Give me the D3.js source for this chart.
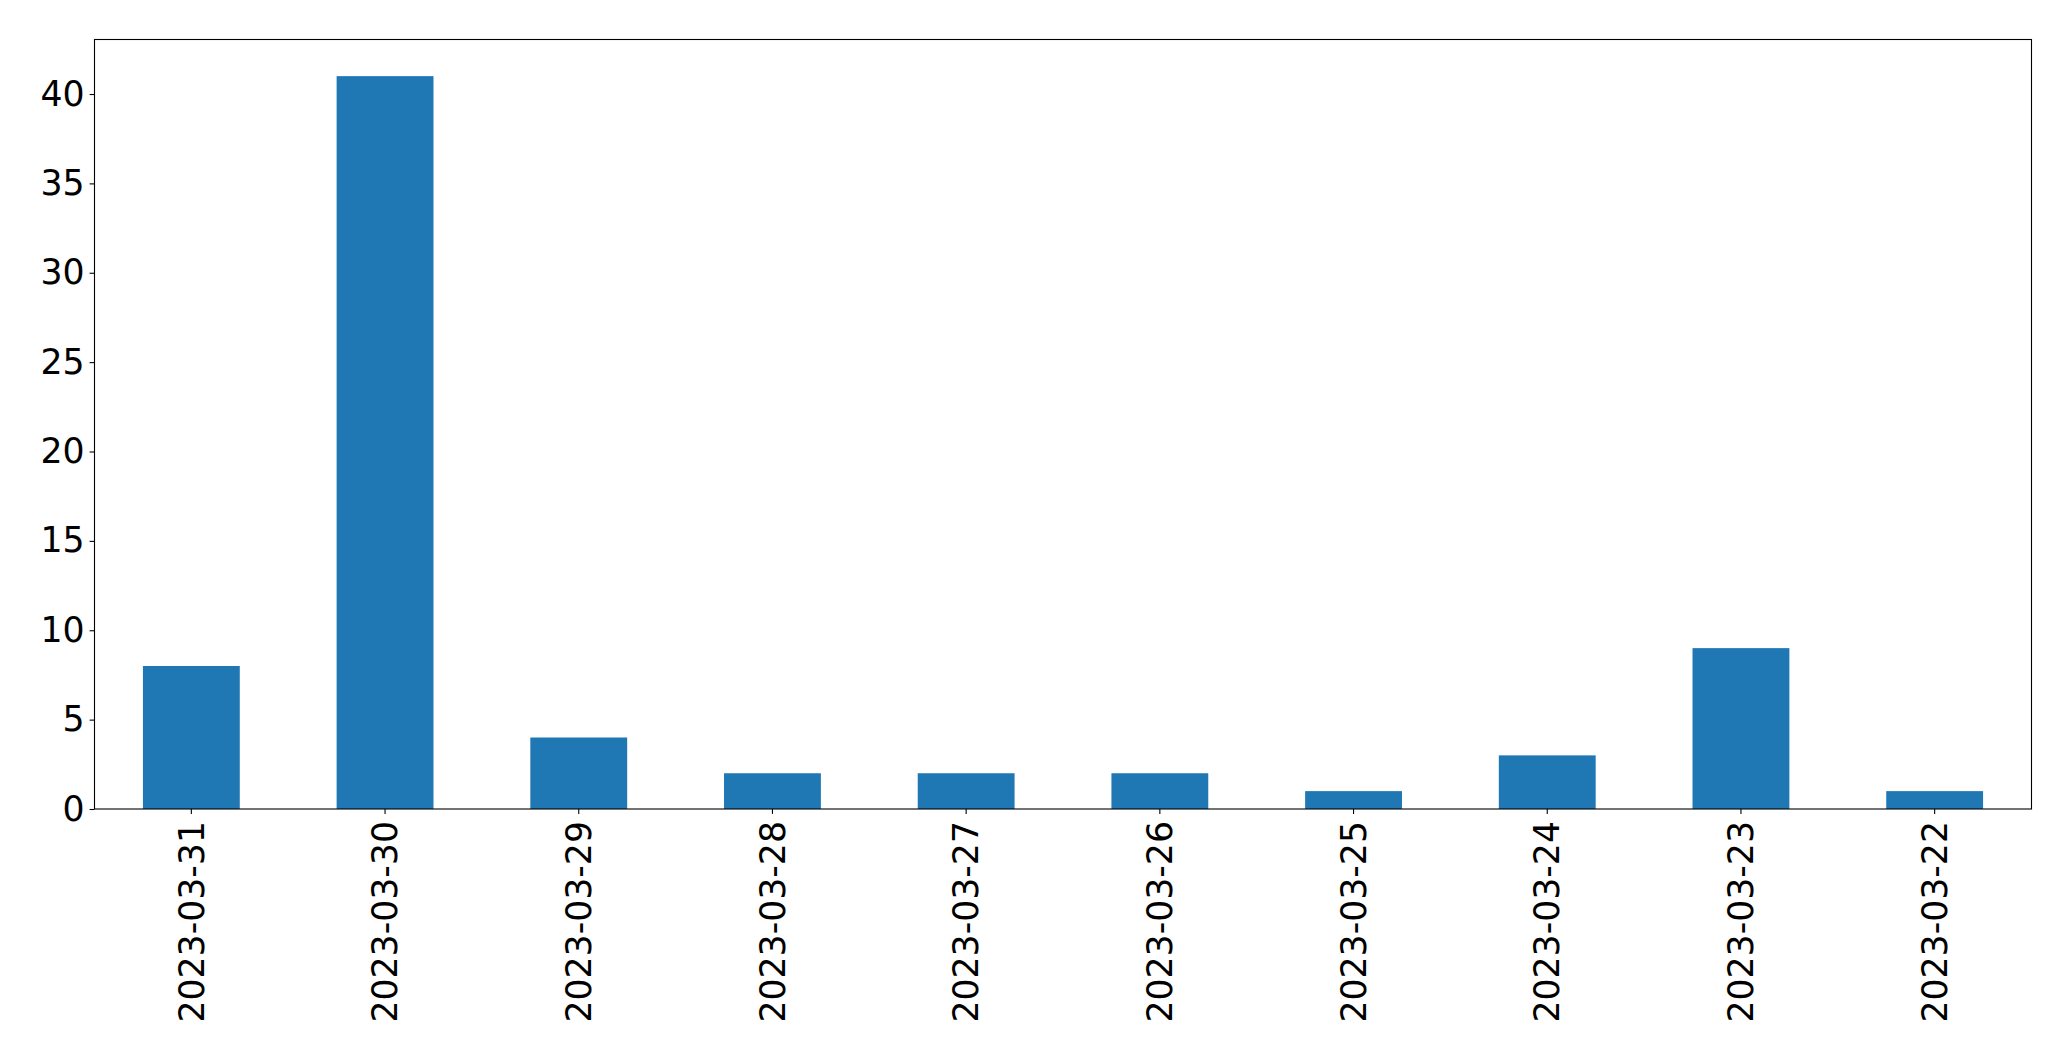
<!DOCTYPE html>
<html>
<head>
<meta charset="utf-8">
<script src="https://cdn.jsdelivr.net/npm/d3@7"></script>
<style>
  html, body { margin: 0; padding: 0; background: #fff; }
  svg { display: block; }
  text { font-family: "DejaVu Sans", sans-serif; }
</style>
</head>
<body>
<script>
const categories = ["2023-03-31","2023-03-30","2023-03-29","2023-03-28","2023-03-27","2023-03-26","2023-03-25","2023-03-24","2023-03-23","2023-03-22"];
const values = [8, 41, 4, 2, 2, 2, 1, 3, 9, 1];
const yTicks = [0, 5, 10, 15, 20, 25, 30, 35, 40];

(function () {
const W = 2071, H = 1061;
const mLeft = 94.5, mRight = 2031.5, mTop = 39.5, mBottom = 809;
const fontSize = 34.7;

const svg = d3.select("body").append("svg").attr("width", W).attr("height", H);

const x = d3.scaleBand().domain(categories).range([mLeft, mRight]).paddingInner(0.5).paddingOuter(0.25).align(0.5);
const y = d3.scaleLinear().domain([0, d3.max(values) * 1.05]).range([mBottom, mTop]);

svg.append("g").selectAll("rect").data(values).join("rect")
  .attr("x", (d, i) => x(categories[i]))
  .attr("width", x.bandwidth())
  .attr("y", d => y(d))
  .attr("height", d => y(0) - y(d))
  .attr("fill", "#1f77b4");

// Y axis
const yAxis = d3.axisLeft(y).tickValues(yTicks).tickSize(4.9).tickPadding(5).tickFormat(d3.format("d"));
const gy = svg.append("g").attr("transform", `translate(${mLeft},0)`).call(yAxis);
gy.select(".domain").remove();
gy.selectAll(".tick line").attr("stroke", "#000").attr("stroke-width", 1.1);
gy.selectAll(".tick text").attr("font-size", fontSize).attr("fill", "#000").attr("font-family", "DejaVu Sans, sans-serif");

// X axis
const xAxis = d3.axisBottom(x).tickSize(4.9).tickPadding(5);
const gx = svg.append("g").attr("transform", `translate(0,${mBottom})`).call(xAxis);
gx.select(".domain").remove();
gx.selectAll(".tick line").attr("stroke", "#000").attr("stroke-width", 1.1);
gx.selectAll(".tick text")
  .attr("font-size", fontSize).attr("fill", "#000").attr("font-family", "DejaVu Sans, sans-serif")
  .attr("transform", "rotate(-90)")
  .attr("text-anchor", "end")
  .attr("x", -12).attr("y", 0).attr("dy", "0.35em");

// Frame
svg.append("rect").attr("x", mLeft).attr("y", mTop).attr("width", mRight - mLeft).attr("height", mBottom - mTop)
  .attr("fill", "none").attr("stroke", "#000").attr("stroke-width", 1.1);
})();
</script>
</body>
</html>
